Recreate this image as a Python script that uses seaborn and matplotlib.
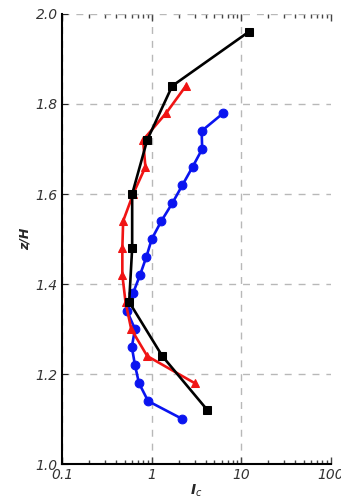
import numpy as np
import pandas as pd
import matplotlib
matplotlib.use("Agg")
import matplotlib.pyplot as plt
import seaborn as sns
from matplotlib.ticker import LogLocator, FixedLocator, NullFormatter

# Data
blue_z = [1.78, 1.74, 1.70, 1.66, 1.62, 1.58, 1.54, 1.50, 1.46, 1.42, 1.38, 1.34, 1.30, 1.26, 1.22, 1.18, 1.14, 1.10]
blue_x = [6.3, 3.6, 3.65, 2.85, 2.2, 1.7, 1.28, 1.0, 0.87, 0.74, 0.62, 0.53, 0.65, 0.60, 0.65, 0.72, 0.91, 2.2]
red_z = [1.84, 1.78, 1.72, 1.66, 1.60, 1.54, 1.48, 1.42, 1.36, 1.30, 1.24, 1.18]
red_x = [2.4, 1.45, 0.80, 0.85, 0.62, 0.48, 0.47, 0.47, 0.51, 0.59, 0.89, 3.0]
black_z = [1.96, 1.84, 1.72, 1.60, 1.48, 1.36, 1.24, 1.12]
black_x = [12.0, 1.69, 0.89, 0.605, 0.605, 0.56, 1.31, 4.17]
x_ticks = [0.1, 1, 10, 100]
x_tick_labels = ["0.1", "1", "10", "100"]
y_ticks = [1.0, 1.2, 1.4, 1.6, 1.8, 2.0]
y_tick_labels = ["1.0", "1.2", "1.4", "1.6", "1.8", "2.0"]

sns.set_style("white")
fig = plt.figure(figsize=(3.41, 4.99), dpi=100)
ax = fig.add_axes([0.182, 0.070, 0.789, 0.902])

series = [
    (blue_x, blue_z, "#0a14f0", "o"),
    (red_x, red_z, "#f01414", "^"),
    (black_x, black_z, "black", "s"),
]
for xs, zs, col, mk in series:
    df = pd.DataFrame({"x": xs, "z": zs})
    sns.lineplot(data=df, x="x", y="z", sort=False, estimator=None, ax=ax,
                 color=col, marker=mk, markersize=6.3, markeredgecolor=col,
                 linewidth=1.9, zorder=3)

ax.set_xscale("log")
ax.set_xlim(0.1, 100)
ax.set_ylim(1.0, 2.0)
ax.xaxis.set_major_locator(FixedLocator(x_ticks))
ax.set_xticklabels(x_tick_labels)
ax.xaxis.set_minor_locator(LogLocator(base=10, subs=np.arange(2, 10)))
ax.xaxis.set_minor_formatter(NullFormatter())
ax.set_yticks(y_ticks)
ax.set_yticklabels(y_tick_labels)

ax.grid(True, which="major", linestyle=(0, (5, 5)), color="#b8b8b8", linewidth=1)
ax.get_xgridlines()[-1].set_visible(False)
for s in ["top", "right"]:
    ax.spines[s].set_visible(False)
for s in ["left", "bottom"]:
    ax.spines[s].set_color("black")
    ax.spines[s].set_linewidth(1.5)

ax.tick_params(axis="x", which="both", direction="in", bottom=True, top=True,
               length=3, width=1, color="#444444")
ax.tick_params(axis="x", which="major", length=5)
ax.tick_params(axis="y", which="both", left=True, length=4, direction="in")
ax.tick_params(axis="both", labelsize=10, labelcolor="#333333", pad=3)
for lab in ax.get_xticklabels() + ax.get_yticklabels():
    lab.set_fontstyle("italic")

ax.set_xlabel("I$_c$", fontsize=10, fontweight="bold", fontstyle="italic", labelpad=0)
ax.set_ylabel("z/H", fontsize=9, fontweight="bold", fontstyle="italic", labelpad=3)

fig.savefig("out.png", dpi=100, facecolor="white")
